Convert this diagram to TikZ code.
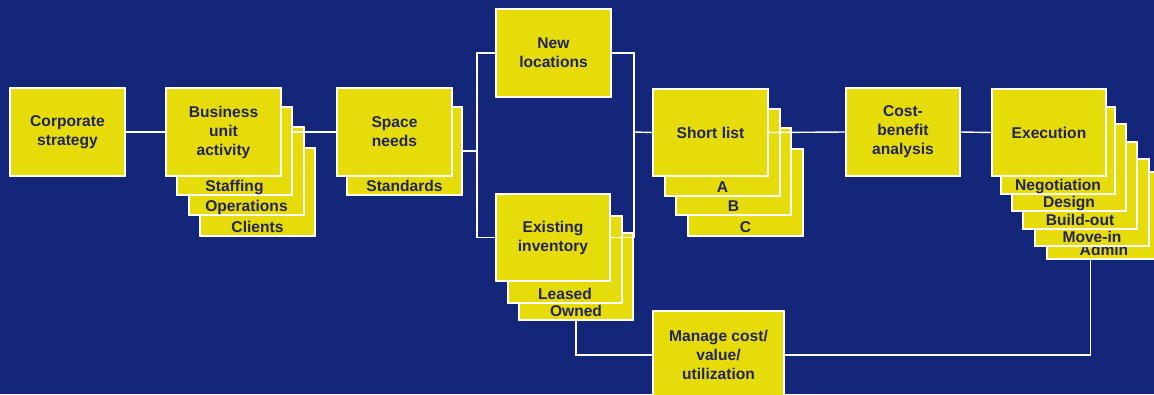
\documentclass[tikz,border=0pt]{standalone}
\usepackage{fontspec}
\setmainfont{Liberation Sans}
\definecolor{navy}{HTML}{14267A}
\definecolor{cardyellow}{HTML}{E6DC0A}
\definecolor{ink}{HTML}{23245A}

% a card that sits in a stack, its caption set along its lower edge
\newcommand\stackcard[5][]{%
  \node[card,#1] (#2) at (#3,#4) {};
  \node[caption] (#2-t) at ([yshift=3.5pt]#2.south) {#5};
}

\begin{document}
\begin{tikzpicture}[x=1pt,y=-1pt,
  card/.style={draw=white, line width=1.3pt, fill=cardyellow,
    minimum width=115pt, minimum height=88pt, inner sep=0pt, outer sep=0pt,
    anchor=north west, text=ink, align=center,
    font=\bfseries\fontsize{15.6}{19}\selectfont},
  caption/.style={anchor=base, inner sep=0pt, text=ink,
    font=\bfseries\fontsize{15.6}{19}\selectfont},
  link/.style={draw=white, line width=1.4pt}]

\useasboundingbox (0,0) rectangle (1154,394);
\clip (0,0) rectangle (1154,394);
\fill[navy] (0,0) rectangle (1154,394);

% corporate strategy
\node[card] (corp) at (10,88) {Corporate\\strategy};

% business unit activity
\stackcard{clients}{200}{148}{Clients}
\stackcard{ops}{189}{127}{Operations}
\stackcard{staff}{177}{107}{Staffing}
\node[card] (bu) at (166,88) {Business\\unit\\activity};

% space needs
\stackcard{std}{347}{107}{Standards}
\node[card] (space) at (337,88) {Space\\needs};

% new locations
\node[card] (newloc) at (496,9) {New\\locations};

% existing inventory
\stackcard[minimum width=114pt, minimum height=87pt]{owned}{519}{233}{Owned}
\stackcard[minimum width=114pt, minimum height=87pt]{leased}{508}{216}{Leased}
\node[card, minimum width=114pt, minimum height=87pt] (exist) at (496,194) {Existing\\inventory};

% short list
\stackcard[minimum height=87pt]{optc}{688}{149}{C}
\stackcard[minimum height=87pt]{optb}{676}{128}{B}
\stackcard[minimum height=87pt]{opta}{665}{109}{A}
\node[card, minimum height=87pt] (sl) at (653,89) {Short list};

% cost-benefit analysis
\node[card, minimum width=114pt] (cost) at (846,88) {Cost-\\benefit\\analysis};

% execution
\stackcard[minimum width=114pt, minimum height=87pt]{admin}{1047}{172}{Admin}
\stackcard[minimum width=114pt, minimum height=87pt]{move}{1035}{159}{Move-in}
\stackcard[minimum width=114pt, minimum height=87pt]{build}{1023}{142}{Build-out}
\stackcard[minimum width=114pt, minimum height=87pt]{design}{1012}{124}{Design}
\stackcard[minimum width=114pt, minimum height=87pt]{neg}{1001}{107}{Negotiation}
\node[card, minimum width=114pt, minimum height=87pt] (exec) at (992,89) {Execution};

% manage cost / value / utilization
\node[card, minimum width=131pt] (manage) at (653,311) {Manage cost/\\value/\\utilization};

% connectors
\coordinate (split) at (477,151);
\coordinate (merge) at (634,132);
\coordinate (adminfoot) at ([xshift=-13.5pt]admin.south);

\draw[link] (corp.east) -- (bu.west);
\draw[link] (staff.east |- space.west) -- (space.west);
\draw[link] (std.east) -- (split);
\draw[link] (newloc.west) -| (split) |- (exist.west);
\draw[link] (newloc.east) -| (merge) |- (exist.east);
\draw[link] (merge) -- (sl.west);
\draw[link] (sl.east) -- (cost.west);
\draw[link] (cost.east) -- (exec.west);
\draw[link] (owned.south) |- (manage.west);
\draw[link] (manage.east) -| (adminfoot);
\end{tikzpicture}
\end{document}
